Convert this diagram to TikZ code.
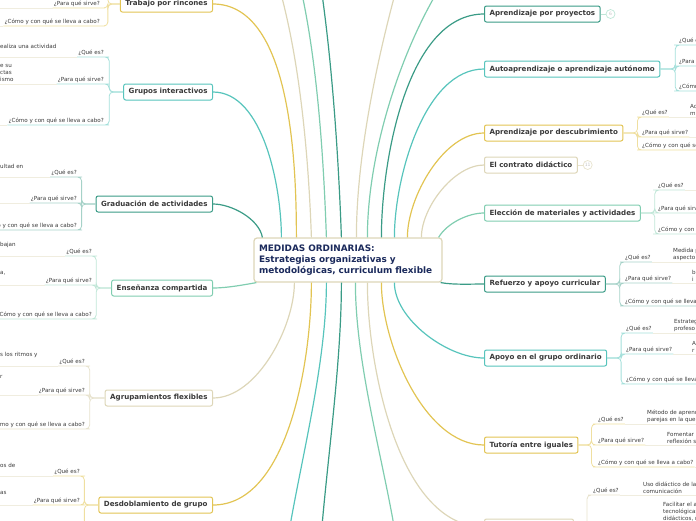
\documentclass[tikz,border=0pt]{standalone}
\usepackage{fontspec}
\setmainfont{DejaVu Sans}
\usepackage{tikz}
\usetikzlibrary{positioning}
\definecolor{cgold}{HTML}{E2C453}
\definecolor{cteal}{HTML}{57C4BC}
\definecolor{cdark}{HTML}{3A9B86}
\definecolor{cmint}{HTML}{80CDB0}
\definecolor{cbeige}{HTML}{DDD6B8}
\definecolor{cink}{HTML}{3A3A3A}
\definecolor{cnavy}{HTML}{1B2A5C}
\newcommand{\qwhat}{¿Qué es?}
\newcommand{\qwhy}{¿Para qué sirve?}
\newcommand{\qhow}{¿Cómo y con qué se lleva a cabo?}
\tikzset{
  root/.style={draw=cbeige,fill=white,rounded corners=3pt,line width=1.2pt,text=cnavy,
               font=\fontsize{8.9}{11}\selectfont\bfseries,align=left,text width=178pt,
               inner xsep=5pt,minimum height=44pt},
  topic/.style={draw,fill=white,rounded corners=2pt,line width=1pt,text=cink,
                font=\fontsize{7.1}{8}\selectfont\bfseries,minimum height=16pt,
                inner xsep=5pt,inner ysep=1pt},
  cnt/.style={circle,draw,line width=0.7pt,minimum size=9pt,inner sep=0pt,
              font=\fontsize{4.5}{5}\selectfont,text=cink!30},
  br/.style={line width=1.2pt,looseness=0.8},
  sub/.style={line width=0.8pt,rounded corners=4pt},
  ansl/.style={line width=0.8pt,cbeige!45},
  qlbl/.style={font=\fontsize{5.6}{6.5}\selectfont,text=cink,inner sep=1pt},
  txt/.style={font=\fontsize{5.6}{7.2}\selectfont,text=cink,inner sep=1pt,align=left},
}

\begin{document}
\begin{tikzpicture}[x=1pt,y=-1pt]
\useasboundingbox (0,0) rectangle (696,520);
\clip (0,0) rectangle (696,520);
\coordinate (lft) at (0,0);
\coordinate (rgt) at (696,0);

% ================= CENTRE =================
\node[root] (ctr) at (348,260)
  {MEDIDAS ORDINARIAS:\\Estrategias organizativas y\\metodológicas, curriculum flexible};

% ================= LEFT TOPICS =================
\node[topic,draw=cgold,anchor=east] (rinc) at (213,4) {Trabajo por rincones};
\node[topic,draw=cteal,anchor=east] (grup) at (213,92) {Grupos interactivos};
\node[topic,draw=cdark,anchor=east] (grad) at (213,204) {Graduación de actividades};
\node[topic,draw=cmint,anchor=east] (ense) at (213,288) {Enseñanza compartida};
\node[topic,draw=cbeige,anchor=east] (agru) at (213,398) {Agrupamientos flexibles};
\node[topic,draw=cgold,anchor=east] (desd) at (213,505) {Desdoblamiento de grupo};

% ================= RIGHT TOPICS =================
\node[topic,draw=cdark,anchor=west] (proy) at (484,14) {Aprendizaje por proyectos};
\node[cnt,draw=cmint!50,right=5pt of proy] (proyn) {6};
\node[topic,draw=cteal,anchor=west] (auto) at (484,69) {Autoaprendizaje o aprendizaje autónomo};
\node[topic,draw=cgold,anchor=west] (desc) at (484,133) {Aprendizaje por descubrimiento};
\node[topic,draw=cbeige,anchor=west] (cont) at (484,165) {El contrato didáctico};
\node[cnt,draw=cbeige!70,right=5pt of cont] (contn) {11};
\node[topic,draw=cmint,anchor=west] (elec) at (484,213) {Elección de materiales y actividades};
\node[topic,draw=cdark,anchor=west] (refu) at (484,284) {Refuerzo y apoyo curricular};
\node[topic,draw=cteal,anchor=west] (apoy) at (484,358) {Apoyo en el grupo ordinario};
\node[topic,draw=cgold,anchor=west] (tuto) at (484,445) {Tutoría entre iguales};
\node[topic,draw=cbeige,anchor=west,minimum width=89pt] (last) at (484,527) {};

\draw[line width=0.8pt,cmint!50] (proy) -- (proyn);
\draw[line width=0.8pt,cbeige!70] (cont) -- (contn);

% off-page branch ends
\coordinate (up1) at (281,-6);
\coordinate (up2) at (302,-6);
\coordinate (up3) at (322,-6);
\coordinate (up4) at (395,-6);
\coordinate (up5) at (436,-6);
\coordinate (dn1) at (290,526);
\coordinate (dn2) at (322,526);
\coordinate (dn3) at (394,526);

% ================= MAIN BRANCHES =================
\draw[br,cdark]  ([xshift=9]ctr.north west) to[out=100,in=0] (grad.east);
\draw[br,cteal]  ([xshift=28]ctr.north west) to[out=90,in=0] (grup.east);
\draw[br,cgold]  ([xshift=43]ctr.north west) to[out=90,in=0] (rinc.east);
\draw[br,cbeige] ([xshift=58]ctr.north west) to[out=92,in=-75] (up1);
\draw[br,cmint]  ([xshift=73]ctr.north west) to[out=92,in=-78] (up2);
\draw[br,cdark]  ([xshift=88]ctr.north west) to[out=92,in=-82] (up3);
\draw[br,cbeige] ([xshift=103]ctr.north west) to[out=90,in=-105] (up4);
\draw[br,cmint]  ([xshift=114]ctr.north west) to[out=90,in=-120] (up5);
\draw[br,cdark]  ([xshift=128]ctr.north west) to[out=90,in=180] (proy.west);
\draw[br,cteal]  ([xshift=141]ctr.north west) to[out=90,in=180] (auto.west);
\draw[br,cgold]  ([xshift=154]ctr.north west) to[out=90,in=180] (desc.west);
\draw[br,cbeige] ([xshift=168]ctr.north west) to[out=90,in=180] (cont.west);
\draw[br,cmint]  ([xshift=-4]ctr.north east) to[out=60,in=180] (elec.west);

\draw[br,cmint]  ([xshift=3]ctr.south west) to[out=190,in=0] (ense.east);
\draw[br,cbeige] ([xshift=41]ctr.south west) to[out=-90,in=0] (agru.east);
\draw[br,cgold]  ([xshift=58]ctr.south west) to[out=-90,in=0] (desd.east);
\draw[br,cteal]  ([xshift=73]ctr.south west) to[out=-90,in=80] (dn1);
\draw[br,cdark]  ([xshift=88]ctr.south west) to[out=-90,in=85] (dn2);
\draw[br,cmint]  ([xshift=102]ctr.south west) to[out=-90,in=100] (dn3);
\draw[br,cbeige] ([xshift=114]ctr.south west) to[out=-90,in=180] (last.west);
\draw[br,cgold]  ([xshift=128]ctr.south west) to[out=-90,in=180] (tuto.west);
\draw[br,cteal]  ([xshift=141]ctr.south west) to[out=-90,in=180] (apoy.west);
\draw[br,cdark]  ([xshift=-2]ctr.south east) to[out=-10,in=180] (refu.west);

% ================= LEFT SUB-BRANCHES =================
% Trabajo por rincones
\coordinate (rinc1) at (101,-14);
\draw[sub,cgold!55] (rinc.west) -- ++(-12,0) |- (rinc1);
\foreach \k/\y/\q in {2/8/\qwhy,3/26/\qhow}{
  \node[qlbl,anchor=south east] (rinc\k) at (101,\y) {\q};
  \draw[sub,cgold!55] (rinc.west) -- ++(-12,0) |- (rinc\k.south east) -- (rinc\k.south west);
  \draw[ansl] (rinc\k.south west) -- (rinc\k.south west -| lft);
}
% Grupos interactivos
\foreach \k/\y/\q in {1/57/\qwhat,2/84/\qwhy,3/125/\qhow}{
  \node[qlbl,anchor=south east] (grup\k) at (105,\y) {\q};
  \draw[sub,cteal!55] (grup.west) -- ++(-14,0) |- (grup\k.south east) -- (grup\k.south west);
  \draw[ansl] (grup\k.south west) -- (grup\k.south west -| lft);
}
\node[txt,anchor=west] (grupa1) at (-1,46) {ealiza una actividad};
\node[txt,anchor=west] (grupa2) at (-1,73) {e su\\ctas\\ismo};
% Graduación de actividades
\foreach \k/\y/\q in {1/177/\qwhat,2/203/\qwhy,3/230/\qhow}{
  \node[qlbl,anchor=south east] (grad\k) at (78,\y) {\q};
  \draw[sub,cdark!45] (grad.west) -- ++(-14,0) |- (grad\k.south east) -- (grad\k.south west);
  \draw[ansl] (grad\k.south west) -- (grad\k.south west -| lft);
}
\node[txt,anchor=west] (grada1) at (-1,166) {ultad en};
% Enseñanza compartida
\foreach \k/\y/\q in {1/256/\qwhat,2/285/\qwhy,3/319/\qhow}{
  \node[qlbl,anchor=south east] (ense\k) at (93,\y) {\q};
  \draw[sub,cmint!50] (ense.west) -- ++(-15,0) |- (ense\k.south east) -- (ense\k.south west);
  \draw[ansl] (ense\k.south west) -- (ense\k.south west -| lft);
}
\node[txt,anchor=west] (ensea1) at (-1,245) {bajan};
\node[txt,anchor=west] (ensea2) at (-1,273) {a,};
% Agrupamientos flexibles
\foreach \k/\y/\q in {1/366/\qwhat,2/395/\qwhy,3/429/\qhow}{
  \node[qlbl,anchor=south east] (agru\k) at (86,\y) {\q};
  \draw[sub,cbeige!70] (agru.west) -- ++(-15,0) |- (agru\k.south east) -- (agru\k.south west);
  \draw[ansl] (agru\k.south west) -- (agru\k.south west -| lft);
}
\node[txt,anchor=west] (agrua1) at (-1,355) {s los ritmos y};
\node[txt,anchor=west] (agrua2) at (-1,377) {r};
% Desdoblamiento de grupo
\coordinate (desd3) at (81,540);
\draw[sub,cgold!55] (desd.west) -- ++(-14,0) |- (desd3);
\foreach \k/\y/\q in {1/476/\qwhat,2/505/\qwhy}{
  \node[qlbl,anchor=south east] (desd\k) at (81,\y) {\q};
  \draw[sub,cgold!55] (desd.west) -- ++(-14,0) |- (desd\k.south east) -- (desd\k.south west);
  \draw[ansl] (desd\k.south west) -- (desd\k.south west -| lft);
}
\node[txt,anchor=west] (desda1) at (-1,465) {os de};
\node[txt,anchor=west] (desda2) at (-1,493) {as};

% ================= RIGHT SUB-BRANCHES =================
% Autoaprendizaje
\foreach \k/\y/\q in {1/45/\qwhat,2/66/\qwhy,3/91/\qhow}{
  \node[qlbl,anchor=south west] (auto\k) at (678,\y) {\q};
  \draw[sub,cteal!55] (auto.east) -- ++(15,0) |- (auto\k.south west) -- (auto\k.south east);
}
% Aprendizaje por descubrimiento
\foreach \k/\y/\q in {1/117/\qwhat,2/137/\qwhy,3/150/\qhow}{
  \node[qlbl,anchor=south west] (desc\k) at (641,\y) {\q};
  \draw[sub,cgold!55] (desc.east) -- ++(14,0) |- (desc\k.south west) -- (desc\k.south east);
  \draw[ansl] (desc\k.south east) -- (desc\k.south east -| rgt);
}
\node[txt,anchor=south west] (desca1) at (689,117) {Ac\\m};
% Elección de materiales y actividades
\foreach \k/\y/\q in {1/190/\qwhat,2/213/\qwhy,3/234/\qhow}{
  \node[qlbl,anchor=south west] (elec\k) at (657,\y) {\q};
  \draw[sub,cmint!50] (elec.east) -- ++(14,0) |- (elec\k.south west) -- (elec\k.south east);
  \draw[ansl] (elec\k.south east) -- (elec\k.south east -| rgt);
}
% Refuerzo y apoyo curricular
\foreach \k/\y/\q in {1/262/\qwhat,2/283/\qwhy,3/306/\qhow}{
  \node[qlbl,anchor=south west] (refu\k) at (624,\y) {\q};
  \draw[sub,cdark!45] (refu.east) -- ++(14,0) |- (refu\k.south west) -- (refu\k.south east);
  \draw[ansl] (refu\k.south east) -- (refu\k.south east -| rgt);
}
\node[txt,anchor=south west] (refua1) at (672,262) {Medida p\\aspecto};
\node[txt,anchor=south west] (refua2) at (691,283) {b\\i};
% Apoyo en el grupo ordinario
\foreach \k/\y/\q in {1/333/\qwhat,2/354/\qwhy,3/384/\qhow}{
  \node[qlbl,anchor=south west] (apoy\k) at (625,\y) {\q};
  \draw[sub,cteal!55] (apoy.east) -- ++(14,0) |- (apoy\k.south west) -- (apoy\k.south east);
  \draw[ansl] (apoy\k.south east) -- (apoy\k.south east -| rgt);
}
\node[txt,anchor=south west] (apoya1) at (673,333) {Estrateg\\profeso};
\node[txt,anchor=south west] (apoya2) at (691,354) {A\\r};
% Tutoría entre iguales
\foreach \k/\y/\q in {1/424/\qwhat,2/445/\qwhy,3/467/\qhow}{
  \node[qlbl,anchor=south west] (tuto\k) at (597,\y) {\q};
  \draw[sub,cgold!55] (tuto.east) -- ++(13,0) |- (tuto\k.south west) -- (tuto\k.south east);
  \draw[ansl] (tuto\k.south east) -- (tuto\k.south east -| rgt);
}
\node[txt,anchor=south west] (tutoa1) at (646,424) {Método de aprend\\parejas en la que};
\node[txt,anchor=south west] (tutoa2) at (666,445) {Fomentar\\reflexión s};
% last topic (below the page)
\coordinate (last2) at (592,545);
\draw[sub,cbeige!70] (last.east) -- ++(13,0) |- (last2);
\node[qlbl,anchor=south west] (last1) at (592,495) {\qwhat};
\draw[sub,cbeige!70] (last.east) -- ++(13,0) |- (last1.south west) -- (last1.south east);
\draw[ansl] (last1.south east) -- (last1.south east -| rgt);
\node[txt,anchor=south west] (lasta1) at (642,495) {Uso didáctico de las\\comunicación};
\node[txt,anchor=north west] (lasta2) at (662,501) {Facilitar el a\\tecnológicas\\didácticos, r};

\end{tikzpicture}
\end{document}
